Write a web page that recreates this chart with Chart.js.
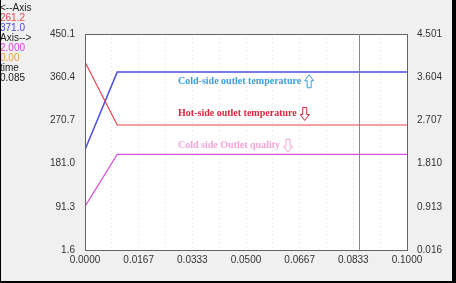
<!DOCTYPE html>
<html>
<head>
<meta charset="utf-8">
<script src="https://cdn.jsdelivr.net/npm/chart.js@4/dist/chart.umd.min.js"></script>
<style>
    html, body { margin: 0; padding: 0; background: #000; }
    #wrap { position: absolute; left: 1px; top: 0; width: 451px; height: 281px; background: #f0f0f0; }
</style>
</head>
<body>
<div id="wrap"><canvas id="chart" width="451" height="281"></canvas></div>
<script>
// time axis
const timeValues = [0, 0.01, 0.1];
const xTickLabels = ["0.0000", "0.0167", "0.0333", "0.0500", "0.0667", "0.0833", "0.1000"];
const leftTickLabels = ["1.6", "91.3", "181.0", "270.7", "360.4", "450.1"];
const rightTickLabels = ["0.016", "0.913", "1.810", "2.707", "3.604", "4.501"];

// series
const hotOutletTemp = [392, 261.2, 261.2];
const coldOutletTemp = [210, 371.0, 371.0];
const coldOutletQuality = [0.92, 2.0, 2.0];

// readout at top left
const readoutLines = ["<--Axis", "261.2", "371.0", "Axis-->", "2.000", "0.00", "time", "0.085"];
const readoutColors = ["#222", "#e84848", "#4848e0", "#222", "#e040e0", "#f0a030", "#222", "#222"];
const cursorTime = 0.085;

// labels inside the plot: [text, x, y (left axis), colour, arrow]
const plotLabels = [
    ["Cold-side outlet temperature", 0.0289, 351, "#3aa0d8", "up"],
    ["Hot-side outlet temperature", 0.0289, 285, "#d8283c", "down"],
    ["Cold side Outlet quality", 0.0289, 219, "#f4a4d8", "down"]
];

function toPoints(values) {
    return values.map((v, i) => ({ x: timeValues[i], y: v }));
}

const decorPlugin = {
    id: 'decor',
    beforeDraw(chart) {
        const ctx = chart.ctx;
        const a = chart.chartArea;
        ctx.save();
        ctx.fillStyle = '#ffffff';
        ctx.fillRect(a.left, a.top, a.right - a.left, a.bottom - a.top);
        ctx.restore();
    },
    afterDatasetsDraw(chart) {
        const ctx = chart.ctx;
        const a = chart.chartArea;
        const xs = chart.scales.x;
        const ys = chart.scales.y;
        ctx.save();
        // border box
        ctx.strokeStyle = '#666';
        ctx.lineWidth = 1;
        ctx.strokeRect(Math.round(a.left) + 0.5, Math.round(a.top) + 0.5, Math.round(a.right - a.left), Math.round(a.bottom - a.top));
        // cursor line
        let cx = Math.round(xs.getPixelForValue(cursorTime)) + 0.5;
        ctx.strokeStyle = '#888';
        ctx.beginPath();
        ctx.moveTo(cx, a.top);
        ctx.lineTo(cx, a.bottom);
        ctx.stroke();

        // plot labels with arrows
        ctx.font = 'bold 10px "Liberation Serif"';
        ctx.textBaseline = 'middle';
        plotLabels.forEach(l => {
            let px = xs.getPixelForValue(l[1]);
            let py = ys.getPixelForValue(l[2]);
            ctx.fillStyle = l[3];
            ctx.textAlign = 'left';
            ctx.fillText(l[0], px, py);
            let w = ctx.measureText(l[0]).width;
            drawArrow(ctx, px + w + 8, py, l[3], l[4]);
        });

        // readout
        ctx.font = '10px "Liberation Sans"';
        ctx.textBaseline = 'middle';
        readoutLines.forEach((t, i) => {
            ctx.fillStyle = readoutColors[i];
            ctx.fillText(t, -1, 8 + i * 10);
        });
        ctx.restore();
    }
};

function drawArrow(ctx, x, y, color, dir) {
    let s = dir === 'up' ? -1 : 1;
    ctx.save();
    ctx.strokeStyle = color;
    ctx.fillStyle = '#fff';
    ctx.lineWidth = 1;
    ctx.beginPath();
    ctx.moveTo(x - 2, y - 6 * s);
    ctx.lineTo(x + 2, y - 6 * s);
    ctx.lineTo(x + 2, y + 1 * s);
    ctx.lineTo(x + 4.5, y + 1 * s);
    ctx.lineTo(x, y + 7 * s);
    ctx.lineTo(x - 4.5, y + 1 * s);
    ctx.lineTo(x - 2, y + 1 * s);
    ctx.closePath();
    ctx.fill();
    ctx.stroke();
    ctx.restore();
}

const tickFont = { family: '"Liberation Sans", Arial', size: 10 };

new Chart(document.getElementById('chart'), {
    type: 'line',
    data: {
        datasets: [
            {
                label: 'Hot-side outlet temperature',
                data: toPoints(hotOutletTemp),
                borderColor: '#e8404c',
                borderWidth: 1.2,
                pointRadius: 0,
                yAxisID: 'y'
            },
            {
                label: 'Cold-side outlet temperature',
                data: toPoints(coldOutletTemp),
                borderColor: '#5050e0',
                borderWidth: 1.5,
                pointRadius: 0,
                yAxisID: 'y'
            },
            {
                label: 'Cold side Outlet quality',
                data: toPoints(coldOutletQuality),
                borderColor: '#d850d8',
                borderWidth: 1.2,
                pointRadius: 0,
                yAxisID: 'y1'
            }
        ]
    },
    options: {
        responsive: false,
        animation: false,
        layout: { padding: { top: 34, left: 0, right: 0, bottom: 0 } },
        plugins: { legend: { display: false }, tooltip: { enabled: false } },
        scales: {
            x: {
                type: 'linear',
                min: 0,
                max: 0.1,
                afterBuildTicks: (s) => { s.ticks = Array.from({ length: 13 }, (_, i) => ({ value: i * 0.1 / 12 })); },
                afterFit: (s) => { s.height = 31; },
                ticks: {
                    font: tickFont,
                    color: '#333',
                    padding: 4,
                    maxRotation: 0,
                    autoSkip: false,
                    callback: (v, i) => i % 2 === 0 ? xTickLabels[i / 2] : ''
                },
                grid: { color: '#efefef', tickLength: 0, drawTicks: false },
                border: { display: false, dash: [2, 2] }
            },
            y: {
                position: 'left',
                min: 1.6,
                max: 450.1,
                afterBuildTicks: (s) => { s.ticks = leftTickLabels.map(t => ({ value: parseFloat(t) })); },
                afterFit: (s) => { s.width = 84; },
                ticks: {
                    font: tickFont,
                    color: '#333',
                    padding: 2,
                    callback: (v, i) => leftTickLabels[i]
                },
                grid: { display: false },
                border: { display: false }
            },
            y1: {
                position: 'right',
                min: 0.016,
                max: 4.501,
                afterBuildTicks: (s) => { s.ticks = rightTickLabels.map(t => ({ value: parseFloat(t) })); },
                afterFit: (s) => { s.width = 45; },
                ticks: {
                    font: tickFont,
                    color: '#333',
                    padding: 2,
                    callback: (v, i) => rightTickLabels[i]
                },
                grid: { display: false },
                border: { display: false }
            }
        }
    },
    plugins: [decorPlugin]
});
</script>
</body>
</html>
